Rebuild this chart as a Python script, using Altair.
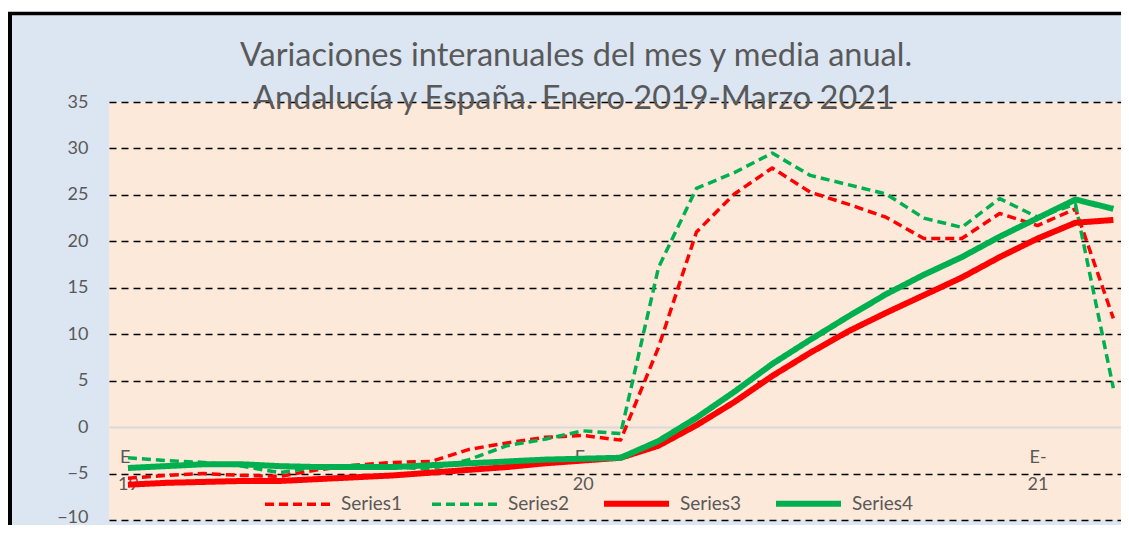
import altair as alt
import pandas as pd

# ---- data ----
months = ["E-19", "F-19", "M-19", "A-19", "M-19", "J-19", "J-19", "A-19", "S-19", "O-19", "N-19", "D-19",
          "E-20", "F-20", "M-20", "A-20", "M-20", "J-20", "J-20", "A-20", "S-20", "O-20", "N-20", "D-20",
          "E-21", "F-21", "M-21"]
series1 = [-5.5, -5.2, -5.0, -5.2, -5.3, -4.6, -4.1, -3.8, -3.7, -2.4, -1.7, -1.1, -0.9, -1.4,
           8.6, 21.0, 25.1, 27.9, 25.3, 24.0, 22.6, 20.3, 20.3, 23.0, 21.7, 23.5, 11.7]
series2 = [-3.3, -3.6, -3.8, -4.2, -4.9, -4.3, -4.1, -4.3, -4.5, -3.5, -2.0, -1.3, -0.4, -0.7,
           17.2, 25.7, 27.4, 29.5, 27.1, 26.1, 25.1, 22.5, 21.5, 24.6, 22.6, 24.0, 4.2]
series3 = [-6.2, -6.0, -5.9, -5.8, -5.8, -5.6, -5.4, -5.2, -4.9, -4.6, -4.3, -3.9, -3.6, -3.3,
           -2.0, 0.2, 2.7, 5.5, 8.0, 10.3, 12.3, 14.2, 16.1, 18.3, 20.3, 22.0, 22.3]
series4 = [-4.4, -4.2, -4.0, -4.0, -4.2, -4.3, -4.3, -4.3, -4.1, -3.9, -3.7, -3.5, -3.4, -3.3,
           -1.5, 1.0, 3.8, 6.8, 9.4, 11.9, 14.3, 16.4, 18.3, 20.5, 22.5, 24.5, 23.5]
series_names = ["Series1", "Series2", "Series3", "Series4"]
tick_idx = [0, 12, 24]
y_ticks = [-10, -5, 0, 5, 10, 15, 20, 25, 30, 35]
title_lines = ["Variaciones interanuales del mes y media anual.",
               "Andalucía y España. Enero 2019-Marzo 2021"]

rows = []
for name, vals in zip(series_names, [series1, series2, series3, series4]):
    for i, v in enumerate(vals):
        rows.append({"idx": i, "mes": months[i], "serie": name, "valor": v})
df = pd.DataFrame(rows)

FONT = "Lato"
GRAY = "#595959"
W, H = 1012, 418
PX_PER_MONTH = 37.9
x_max = -0.5 + W / PX_PER_MONTH
y0_from_bottom = H * (0 - (-10)) / 45.0

label_map = " : ".join(
    f"datum.value == {i} ? ['{months[i].split('-')[0]}-', '{months[i].split('-')[1]}']" for i in tick_idx
) + " : ''"

lines = alt.Chart(df).mark_line(strokeCap="butt", strokeJoin="round").encode(
    x=alt.X("idx:Q",
            scale=alt.Scale(domain=[-0.5, x_max], nice=False, zero=False),
            axis=alt.Axis(values=tick_idx, labelExpr=label_map, title=None, ticks=False,
                          grid=False, domainColor="#d9d9d9", domainWidth=2,
                          offset=-y0_from_bottom, labelPadding=21, labelBaseline="top",
                          labelLineHeight=27, labelFontSize=18, labelColor=GRAY,
                          labelFont=FONT, labelAlign="center")),
    y=alt.Y("valor:Q",
            scale=alt.Scale(domain=[-10, 35], nice=False, zero=False),
            axis=alt.Axis(values=y_ticks, title=None, ticks=False, domain=False,
                          labelPadding=21, labelFontSize=18, labelColor=GRAY, labelFont=FONT,
                          labelOffset={"condition": {"test": "datum.value === -10", "value": -3},
                                       "value": 0},
                          gridColor={"condition": {"test": "datum.value === 0", "value": "transparent"},
                                     "value": "#000000"},
                          gridDash=[7, 5], gridWidth=1.4)),
    color=alt.Color("serie:O",
                    scale=alt.Scale(type="ordinal", domain=series_names,
                                    range=["#ff0000", "#00b050", "#ff0000", "#00b050"]),
                    legend=alt.Legend(title=None, orient="none", legendX=153, legendY=366,
                                      direction="horizontal", columns=4, columnPadding=22,
                                      symbolType="stroke", symbolSize=4225, labelOffset=8,
                                      labelFontSize=19, labelColor=GRAY, labelFont=FONT)),
    strokeDash=alt.StrokeDash("serie:O",
                              scale=alt.Scale(type="ordinal", domain=series_names,
                                              range=[[9, 5], [9, 5], [1, 0], [1, 0]]),
                              legend=alt.Legend(title=None)),
    strokeWidth=alt.StrokeWidth("serie:O",
                                scale=alt.Scale(type="ordinal", domain=series_names,
                                                range=[3.5, 3.5, 6, 6]),
                                legend=alt.Legend(title=None)),
)

one = pd.DataFrame({"k": [0]})
title1 = alt.Chart(one).mark_text(font=FONT, fontSize=32.5, color=GRAY, align="center",
                                  baseline="alphabetic").encode(
    text=alt.value(title_lines[0]), x=alt.value(467), y=alt.value(-36))
title2 = alt.Chart(one).mark_text(font=FONT, fontSize=32.5, color=GRAY, align="center",
                                  baseline="alphabetic").encode(
    text=alt.value(title_lines[1]), x=alt.value(465), y=alt.value(7))
white_strip = alt.Chart(one).mark_rule(color="white", strokeWidth=4).encode(
    x=alt.value(-101), x2=alt.value(W), y=alt.value(-92))
top_border = alt.Chart(one).mark_rule(color="black", strokeWidth=3.5).encode(
    x=alt.value(-101), x2=alt.value(W), y=alt.value(-88.5))
left_border = alt.Chart(one).mark_rule(color="black", strokeWidth=4).encode(
    x=alt.value(-99), y=alt.value(-90), y2=alt.value(H + 5))

chart = alt.layer(lines, title1, title2, white_strip, top_border, left_border).properties(
    width=W, height=H,
    padding={"left": 101, "top": 94, "right": 0, "bottom": 5},
    autosize=alt.AutoSizeParams(type="none"),
    background="#dce6f2",
).configure_view(fill="#fde9d9", stroke=None)

chart.save("out.html", embed_options={"renderer": "svg", "actions": False})
